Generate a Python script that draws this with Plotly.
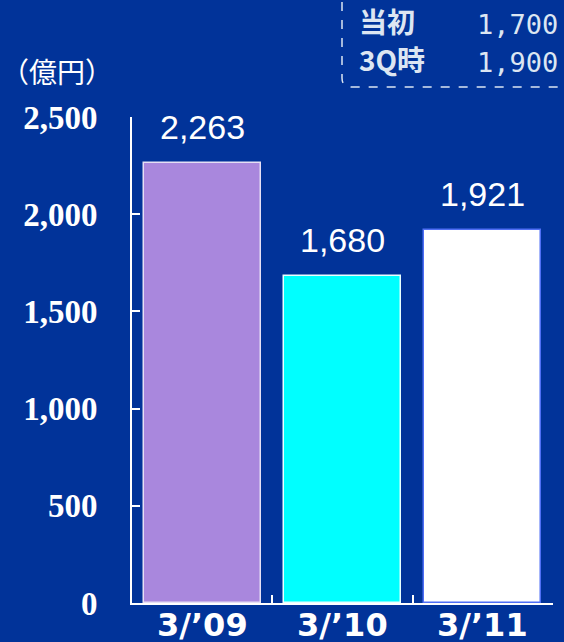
import plotly.graph_objects as go

categories = ["3/\u201909", "3/\u201910", "3/\u201911"]
values = [2263, 1680, 1921]
y_ticks = [0, 500, 1000, 1500, 2000, 2500]
y_tick_labels = ["0", "500", "1,000", "1,500", "2,000", "2,500"]
box_labels = ["当初", "3Q時"]
box_values = ["1,700", "1,900"]

bar_colors = ["#a987dd", "#00ffff", "#ffffff"]
bar_edges = ["#e6e0f5", "#e8ffff", "#4f6ff5"]
BG = "#013399"

W, H = 564, 642
ML, MR, MT, MB = 132, 11, 117, 39
pw, ph = W - ML - MR, H - MT - MB


def px(x):
    return (x - ML) / pw


def py(y):
    return (H - MB - y) / ph


fig = go.Figure()
fig.add_trace(go.Bar(
    x=categories, y=values, width=0.836,
    marker=dict(color=bar_colors, line=dict(color=bar_edges, width=1.5)),
    hoverinfo="skip",
))

for c, v in zip(categories, values):
    fig.add_annotation(x=c, y=v, xref="x", yref="y", text=f"{v:,}",
                       showarrow=False, yanchor="bottom", yshift=15,
                       font=dict(family="Liberation Sans", size=34, color="white"))

# category labels placed just under the axis
for c in categories:
    fig.add_annotation(x=c, y=py(625), xref="x", yref="paper", text=c,
                       showarrow=False, yanchor="middle",
                       font=dict(family="DejaVu Sans", size=32, color="white", weight="bold"))

# unit label
fig.add_annotation(x=px(57), y=py(71), xref="paper", yref="paper", text="（億円）",
                   showarrow=False, xanchor="center", yanchor="middle",
                   font=dict(family="Noto Sans CJK JP", size=28, color="white"))

fig.update_layout(
    width=W, height=H,
    margin=dict(l=ML, r=MR, t=MT, b=MB, autoexpand=False),
    paper_bgcolor=BG, plot_bgcolor=BG,
    showlegend=False,
    bargap=0,
    xaxis=dict(
        type="category", range=[-0.5, 2.5], automargin=False,
        showline=True, linecolor="white", linewidth=2,
        ticks="inside", tickson="boundaries", ticklen=8, tickwidth=2, tickcolor="white",
        showgrid=False, zeroline=False, showticklabels=False,
    ),
    yaxis=dict(
        range=[0, 2500], tickvals=y_ticks, ticktext=y_tick_labels, automargin=False,
        showline=True, linecolor="white", linewidth=2,
        ticks="inside", ticklen=8, tickwidth=2, tickcolor="white",
        showgrid=False, zeroline=False,
        tickfont=dict(family="Liberation Serif", size=33, color="white", weight="bold"),
        ticklabelstandoff=26,
    ),
)

path = (f"M {px(342)} {py(2)} L {px(342)} {py(78)} "
        f"Q {px(342)} {py(87)} {px(352)} {py(87)} L {px(566)} {py(87)}")
fig.add_shape(type="path", path=path, xref="paper", yref="paper",
              line=dict(color="#dce6f2", width=1.5, dash="dash"))

rows_y = [21, 59]
for lab, val, yy in zip(box_labels, box_values, rows_y):
    fig.add_annotation(x=px(357), y=py(yy), xref="paper", yref="paper", text=lab,
                       showarrow=False, xanchor="left", yanchor="middle",
                       font=dict(family="Noto Sans CJK JP", size=28, color="#dce6f2", weight="bold"))
    fig.add_annotation(x=px(560), y=py(yy + 3), xref="paper", yref="paper", text=val,
                       showarrow=False, xanchor="right", yanchor="middle",
                       font=dict(family="DejaVu Sans Mono", size=27, color="#dce6f2"))

fig.write_html("out.html", config={"displayModeBar": False},
               post_script="document.body.style.margin='0';document.body.style.overflow='hidden';")
